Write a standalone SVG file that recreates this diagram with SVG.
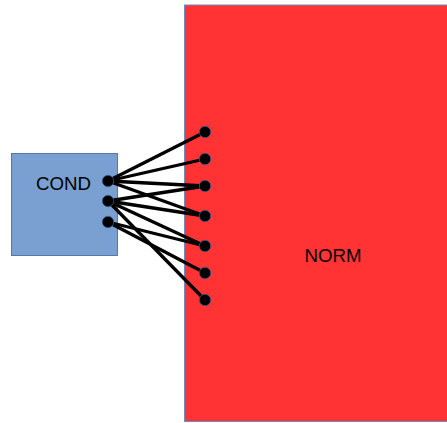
<svg xmlns="http://www.w3.org/2000/svg" width="447" height="423" viewBox="0 0 447 423">
<style>
.lbl{font-family:"Liberation Sans",Arial,sans-serif;font-size:18.7px;fill:#000;text-anchor:middle}
.wire{stroke:#000;stroke-width:3.3;fill:none}
.pin{fill:#000;stroke:#3a5a8c;stroke-width:0.8}
</style>
<rect width="447" height="423" fill="#fff"/>
<g id="NORM">
<rect x="184.5" y="5" width="275" height="416.5" fill="#ff3333" stroke="#6c8ebf" stroke-width="1"/>
<text class="lbl" x="333" y="262">NORM</text>
</g>
<g id="COND">
<rect x="11.5" y="153.5" width="106" height="102" fill="#7aa0d2" stroke="#5577aa" stroke-width="1"/>
<text class="lbl" x="63.5" y="190">COND</text>
</g>
<g id="connectors">
<line class="wire" x1="108" y1="181" x2="205" y2="132"/>
<line class="wire" x1="108" y1="181" x2="205" y2="159"/>
<line class="wire" x1="108" y1="181" x2="205" y2="186"/>
<line class="wire" x1="108" y1="181" x2="205" y2="216"/>
<line class="wire" x1="108" y1="201" x2="205" y2="186"/>
<line class="wire" x1="108" y1="201" x2="205" y2="216"/>
<line class="wire" x1="108" y1="201" x2="205" y2="246"/>
<line class="wire" x1="108" y1="201" x2="205" y2="300"/>
<line class="wire" x1="108" y1="222" x2="205" y2="246"/>
<line class="wire" x1="108" y1="222" x2="205" y2="273"/>
</g>
<g id="pins">
<circle class="pin" cx="108" cy="181" r="5.7"/>
<circle class="pin" cx="108" cy="201" r="5.7"/>
<circle class="pin" cx="108" cy="222" r="5.7"/>
<circle class="pin" cx="205" cy="132" r="5.7"/>
<circle class="pin" cx="205" cy="159" r="5.7"/>
<circle class="pin" cx="205" cy="186" r="5.7"/>
<circle class="pin" cx="205" cy="216" r="5.7"/>
<circle class="pin" cx="205" cy="246" r="5.7"/>
<circle class="pin" cx="205" cy="273" r="5.7"/>
<circle class="pin" cx="205" cy="300" r="5.7"/>
</g>
</svg>
